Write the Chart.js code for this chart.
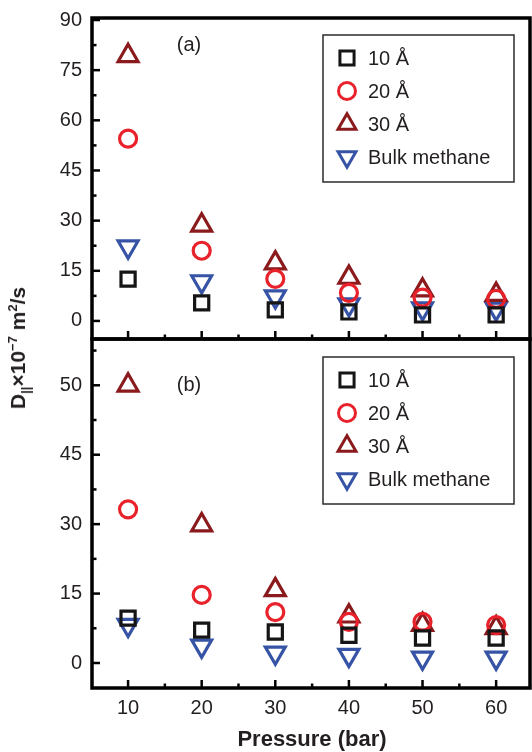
<!DOCTYPE html>
<html>
<head>
<meta charset="utf-8">
<script src="https://cdn.jsdelivr.net/npm/chart.js@4.4.1/dist/chart.umd.min.js"></script>
<style>
  body { margin: 0; background: #fff; }
  #wrap { position: relative; width: 532px; height: 752px; overflow: hidden; }
  canvas { position: absolute; left: 0; }
  #panelA { top: 0; }
  #panelB { top: 330px; }
  #ytitle {
    position: absolute; left: 18px; top: 348px;
    transform: translate(-50%, -50%) rotate(-90deg);
    white-space: nowrap;
    font: bold 21px "Liberation Sans", Arial, sans-serif;
    color: #231f20;
  }
  #ytitle sub, #ytitle sup { font-size: 62%; line-height: 0; }
</style>
</head>
<body>
<div id="wrap">
  <canvas id="panelA" width="532" height="341"></canvas>
  <canvas id="panelB" width="532" height="422"></canvas>
  <div id="ytitle">D<sub>||</sub>×10<sup>−7</sup> m<sup>2</sup>/s</div>
</div>
<script>
const pressure = [10, 20, 30, 40, 50, 60];
const seriesNames = ['10 Å', '20 Å', '30 Å', 'Bulk methane'];

// panel (a)
const a10 = [12.5, 5.4, 3.3, 2.7, 1.8, 1.8];
const a20 = [54.5, 21, 12.6, 8.4, 7.0, 6.6];
const a30 = [79.3, 28.6, 17.3, 13, 9.2, 7.9];
const aBulk = [22.2, 11.8, 7.3, 4.9, 3.7, 3.6];
const yTicksA = [0, 15, 30, 45, 60, 75, 90];
const yLabelsA = ['0', '15', '30', '45', '60', '75', '90'];

// panel (b)
const b10 = [9.7, 7.1, 6.7, 6.0, 5.4, 5.4];
const b20 = [33.2, 14.7, 11, 8.9, 8.9, 8.2];
const b30 = [60, 29.8, 15.8, 10.1, 8.3, 7.6];
const bBulk = [8.2, 3.7, 2.2, 1.7, 1.1, 1.1];
const yTicksB = [0, 15, 30, 45, 60];
const yLabelsB = ['0', '15', '30', '45', '50'];

const FONT = '"Liberation Sans", Arial, sans-serif';
const TEXT = '#231f20';

const markers = [
  { pointStyle: 'rect', rotation: 0, radius: 10, color: '#151515' },
  { pointStyle: 'circle', rotation: 0, radius: 8.5, color: '#e8212a' },
  { pointStyle: 'triangle', rotation: 0, radius: 11.5, color: '#8a1a1c' },
  { pointStyle: 'triangle', rotation: 180, radius: 11.5, color: '#3653a6' }
];

function makeDatasets(series) {
  return series.map((vals, k) => ({
    label: seriesNames[k],
    data: vals.map((v, i) => ({ x: pressure[i], y: v })),
    pointStyle: markers[k].pointStyle,
    rotation: markers[k].rotation,
    pointRadius: markers[k].radius,
    pointHoverRadius: markers[k].radius,
    borderColor: markers[k].color,
    backgroundColor: 'rgba(0,0,0,0)',
    pointBorderWidth: 3.2,
    showLine: false
  }));
}

// frame, inward ticks, panel tag and boxed legend
const panelDecor = {
  id: 'panelDecor',
  afterDraw(chart, args, opts) {
    const { ctx, chartArea: a, scales: { x, y } } = chart;
    ctx.save();
    ctx.strokeStyle = '#000';
    ctx.lineCap = 'butt';

    // y ticks
    const yMaj = opts.yTicks;
    ctx.lineWidth = 2.5;
    yMaj.forEach(v => {
      const py = y.getPixelForValue(v);
      ctx.beginPath(); ctx.moveTo(a.left, py); ctx.lineTo(a.left + 8, py); ctx.stroke();
      const m = v + (yMaj[1] - yMaj[0]) / 2;
      if (m < y.max) {
        const pm = y.getPixelForValue(m);
        ctx.beginPath(); ctx.moveTo(a.left, pm); ctx.lineTo(a.left + 4.5, pm); ctx.stroke();
      }
    });

    // x ticks along the bottom
    pressure.forEach(v => {
      const px = x.getPixelForValue(v);
      ctx.beginPath(); ctx.moveTo(px, a.bottom); ctx.lineTo(px, a.bottom - 8); ctx.stroke();
      const m = v + 5;
      if (m < x.max) {
        const pm = x.getPixelForValue(m);
        ctx.beginPath(); ctx.moveTo(pm, a.bottom); ctx.lineTo(pm, a.bottom - 4.5); ctx.stroke();
      }
    });

    // frame
    ctx.lineWidth = 3.5;
    ctx.strokeRect(a.left, a.top, a.right - a.left, a.bottom - a.top);

    // panel tag
    ctx.fillStyle = TEXT;
    ctx.font = '20px ' + FONT;
    ctx.textAlign = 'center';
    ctx.textBaseline = 'middle';
    ctx.fillText(opts.tag, a.left + 97, a.top + opts.tagY);

    // legend box
    const lx = a.left + 231, ly = a.top + opts.legendTop;
    ctx.lineWidth = 1.5;
    ctx.strokeStyle = '#2b2b2b';
    ctx.strokeRect(lx, ly, 191, 147);
    ctx.textAlign = 'left';
    seriesNames.forEach((name, k) => {
      const ry = ly + 23 + k * 33;
      const mk = markers[k];
      ctx.strokeStyle = mk.color;
      ctx.fillStyle = 'rgba(0,0,0,0)';
      ctx.lineWidth = 3;
      Chart.helpers.drawPoint(ctx, {
        pointStyle: mk.pointStyle, rotation: mk.rotation,
        radius: mk.pointStyle === 'triangle' ? mk.radius * 0.9 : mk.radius,
        borderWidth: 3
      }, lx + 24, ry);
      ctx.fillStyle = TEXT;
      ctx.fillText(name, lx + 45, ry + 1);
    });
    ctx.restore();
  }
};

// keep the plot box where it is set, whatever the tick labels need
function noPad(s) {
  s.paddingTop = 0; s.paddingBottom = 0; s.paddingLeft = 0; s.paddingRight = 0;
}

function makeChart(id, series, yMin, yMax, yTicks, yLabels, decor, bottomAxis) {
  return new Chart(document.getElementById(id), {
    type: 'scatter',
    data: { datasets: makeDatasets(series) },
    options: {
      responsive: false,
      animation: false,
      events: [],
      layout: { autoPadding: false, padding: { top: decor.padTop, right: 2, left: 0, bottom: 0 } },
      plugins: {
        legend: { display: false },
        tooltip: { enabled: false },
        panelDecor: decor
      },
      scales: {
        x: {
          type: 'linear',
          min: 5.1,
          max: 64.6,
          grid: { display: false, drawTicks: false },
          border: { display: false },
          afterBuildTicks: s => { s.ticks = pressure.map(v => ({ value: v })); },
          afterFit: s => { s.height = bottomAxis; noPad(s); },
          ticks: {
            display: decor.xLabels,
            padding: 8,
            maxRotation: 0,
            color: TEXT,
            font: { family: FONT, size: 20 }
          }
        },
        y: {
          min: yMin,
          max: yMax,
          grid: { display: false, drawTicks: false },
          border: { display: false },
          afterBuildTicks: s => { s.ticks = yTicks.map(v => ({ value: v })); },
          afterFit: s => { s.width = 92; noPad(s); },
          ticks: {
            padding: 10,
            color: TEXT,
            font: { family: FONT, size: 20 },
            callback: (v, i) => yLabels[i]
          }
        }
      }
    },
    plugins: [panelDecor]
  });
}

makeChart('panelA', [a10, a20, a30, aBulk], -5.4, 90.6, yTicksA, yLabelsA,
  { padTop: 18, tag: '(a)', tagY: 27, legendTop: 17, yTicks: yTicksA, xLabels: false }, 2);

makeChart('panelB', [b10, b20, b30, bBulk], -5.4, 70, yTicksB, yLabelsB,
  { padTop: 9, tag: '(b)', tagY: 46, legendTop: 18, yTicks: yTicksB, xLabels: true }, 64);

// axis title under the lower panel
(function () {
  const c = document.getElementById('panelB').getContext('2d');
  c.save();
  c.fillStyle = TEXT;
  c.font = 'bold 22px ' + FONT;
  c.textAlign = 'center';
  c.textBaseline = 'middle';
  c.fillText('Pressure (bar)', 312, 740 - 330);
  c.restore();
})();
</script>
</body>
</html>
